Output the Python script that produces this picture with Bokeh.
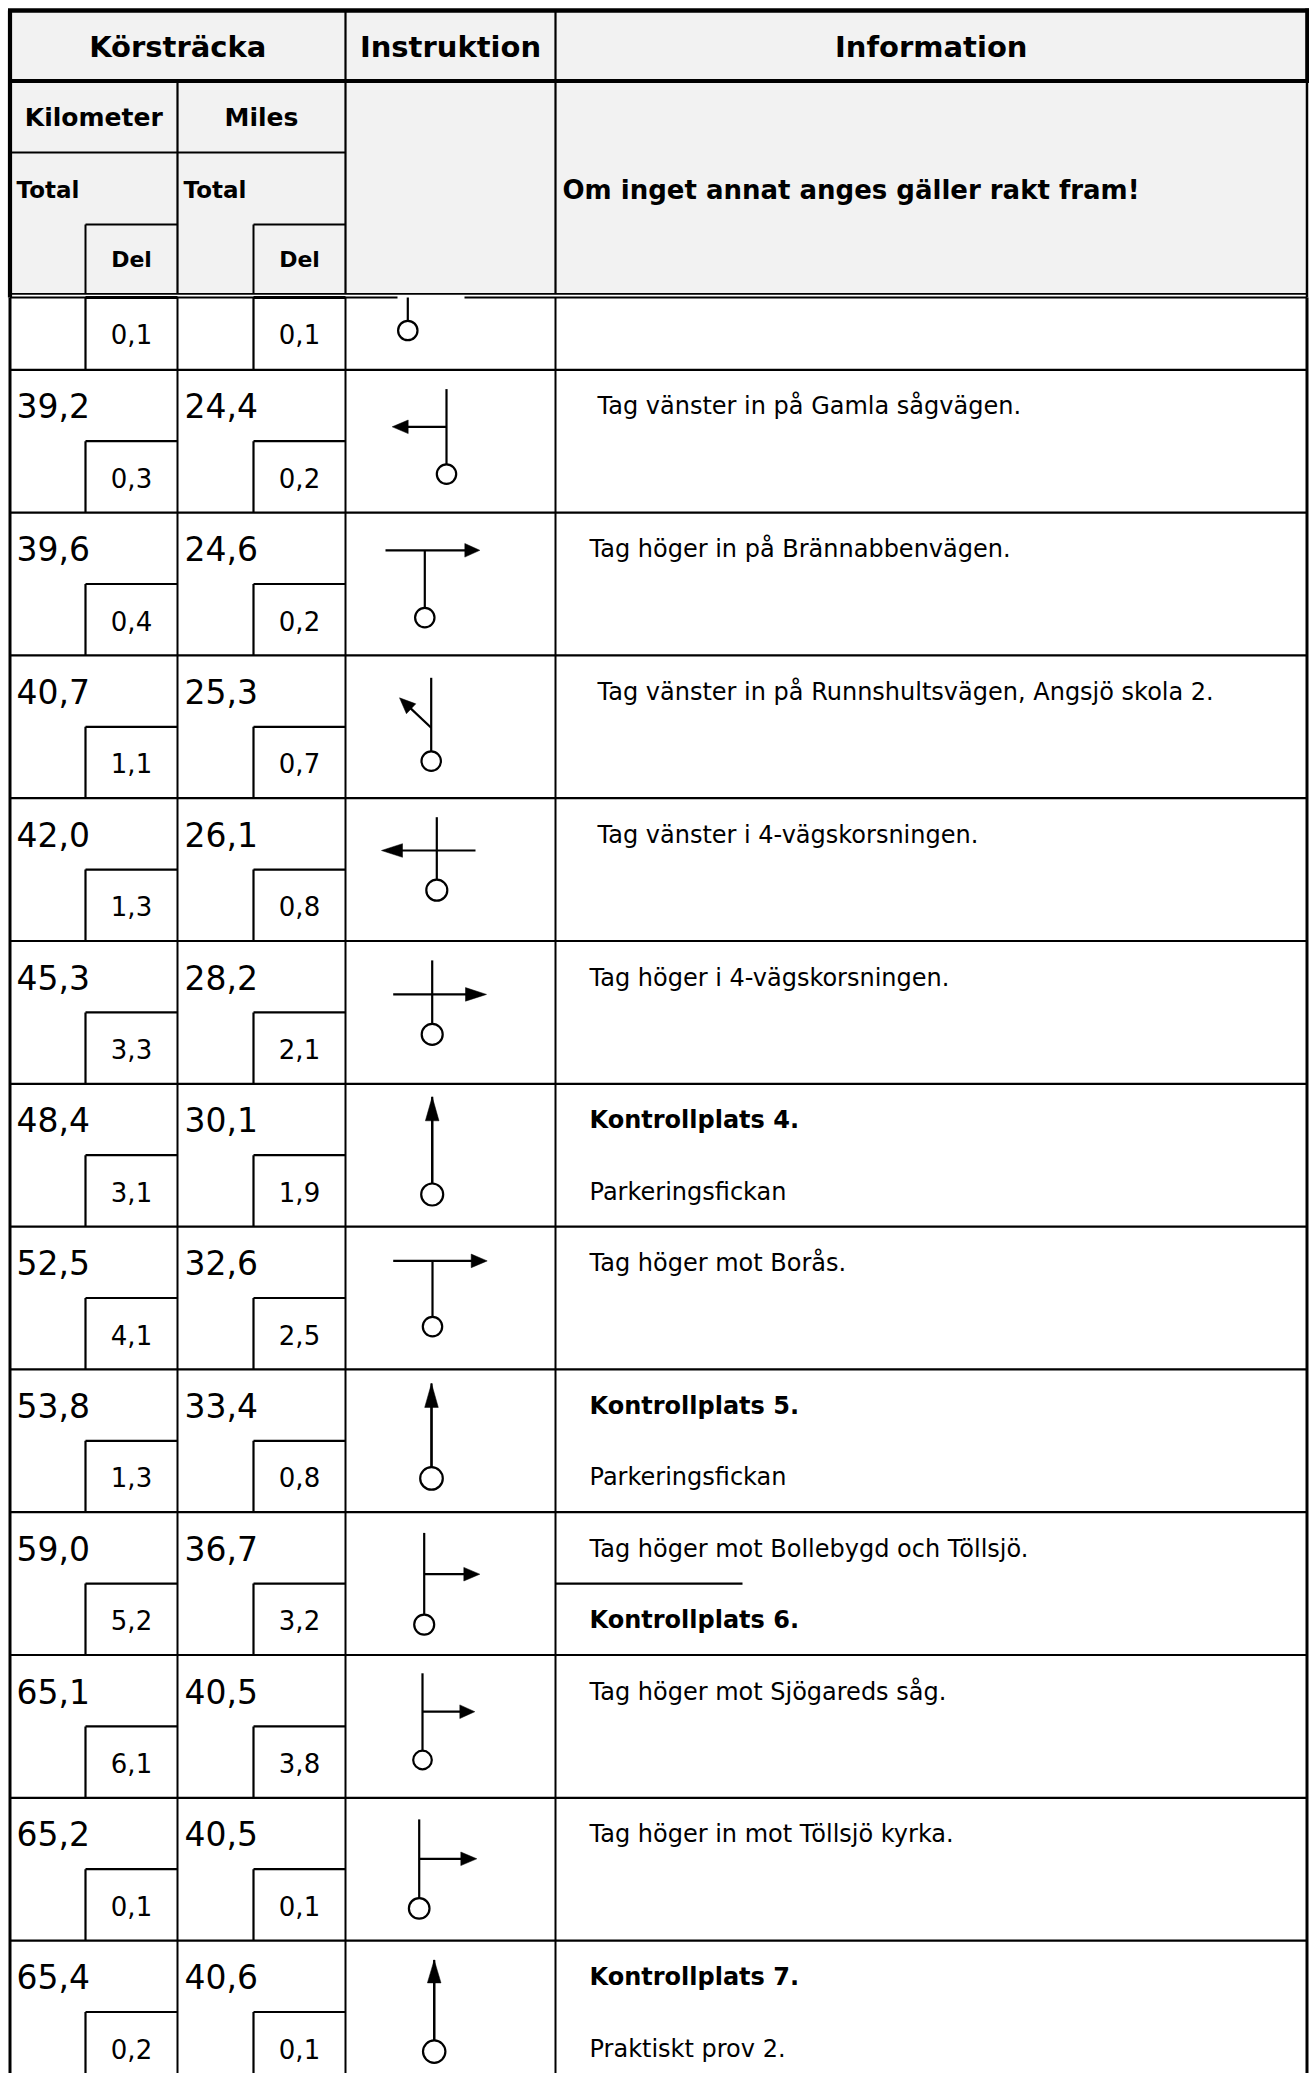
from bokeh.plotting import figure
from bokeh.models import Range1d, ColumnDataSource
from bokeh.embed import file_html
from bokeh.resources import INLINE
from bokeh.core.properties import value
import math

# ---------------- data ----------------
km_total = ["", "39,2", "39,6", "40,7", "42,0", "45,3", "48,4", "52,5", "53,8", "59,0", "65,1", "65,2", "65,4"]
km_del = ["0,1", "0,3", "0,4", "1,1", "1,3", "3,3", "3,1", "4,1", "1,3", "5,2", "6,1", "0,1", "0,2"]
mi_total = ["", "24,4", "24,6", "25,3", "26,1", "28,2", "30,1", "32,6", "33,4", "36,7", "40,5", "40,5", "40,6"]
mi_del = ["0,1", "0,2", "0,2", "0,7", "0,8", "2,1", "1,9", "2,5", "0,8", "3,2", "3,8", "0,1", "0,1"]
info_top = ["", "Tag vänster in på Gamla sågvägen.", "Tag höger in på Brännabbenvägen.",
            "Tag vänster in på Runnshultsvägen, Angsjö skola 2.", "Tag vänster i 4-vägskorsningen.",
            "Tag höger i 4-vägskorsningen.", "Kontrollplats 4.", "Tag höger mot Borås.",
            "Kontrollplats 5.", "Tag höger mot Bollebygd och Töllsjö.", "Tag höger mot Sjögareds såg.",
            "Tag höger in mot Töllsjö kyrka.", "Kontrollplats 7."]
info_bottom = ["", "", "", "", "", "", "Parkeringsfickan", "", "Parkeringsfickan",
               "Kontrollplats 6.", "", "", "Praktiskt prov 2."]
header_top = ["Körsträcka", "Instruktion", "Information"]
header_units = ["Kilometer", "Miles"]
header_total = "Total"
header_del = "Del"
header_note = "Om inget annat anges gäller rakt fram!"

# ---------------- layout (page pixels) ----------------
info_indent = [34, 42, 34, 42, 42, 34, 34, 34, 34, 34, 34, 34, 34]
split_rows = [9]  # rows with a partial separator in information column

XL, XKD, XKM, XMD, XIN, XINFO, XR = 9.5, 85, 177, 253, 345, 555, 1306.5
YT, Y1, Y2, Y3, YH1, YH2 = 10, 80.5, 152, 224, 293.3, 297
ROW0_BOTTOM = 369.3
ROW_H = 142.8
N = len(km_del)
row_top = [YH2] + [ROW0_BOTTOM + (i - 1) * ROW_H for i in range(1, N)]
BOTTOM = 2080

# icons: stem x, stem top offset, circle centre offset, radius, bar (x0, oy0, x1, oy1) with arrow at (x1, oy1), head length
icons = [
    dict(sx=407.3, st=0, cy=33, r=9.7, bar=None, L=0),
    dict(sx=446, st=19.3, cy=104.3, r=9.7, bar=(446, 57, 391.7, 57), L=16),
    dict(sx=424.3, st=37.7, cy=105, r=9.7, bar=(385, 37.7, 479.3, 37.7), L=15),
    dict(sx=430.7, st=22.4, cy=105.7, r=9.7, bar=(430.7, 72.4, 399, 42.4), L=16),
    dict(sx=436.3, st=19, cy=92, r=10.5, bar=(475, 52.3, 381, 52.3), L=21),
    dict(sx=431.7, st=19.4, cy=93.4, r=10.5, bar=(392.7, 53.4, 486, 53.4), L=21),
    dict(sx=431.7, st=13, cy=110.7, r=11, bar=(431.7, 99.7, 431.7, 13), L=24),
    dict(sx=432, st=34.3, cy=100, r=9.7, bar=(392.7, 34.3, 486.7, 34.3), L=16),
    dict(sx=431, st=14, cy=109, r=11.3, bar=(431, 97.7, 431, 14), L=24),
    dict(sx=423.7, st=20.7, cy=112.4, r=10, bar=(423.7, 62, 479.3, 62), L=16),
    dict(sx=422, st=18.3, cy=105, r=9.3, bar=(422, 56.7, 474.3, 56.7), L=15),
    dict(sx=418.7, st=21.6, cy=110.6, r=10.3, bar=(418.7, 61, 476.3, 61), L=16),
    dict(sx=433.7, st=19.3, cy=111, r=11.2, bar=(433.7, 99.8, 433.7, 19.3), L=23),
]

W, H = 1309, 2073
p = figure(width=W, height=H, x_range=Range1d(0, W), y_range=Range1d(H, 0),
           output_backend="svg", toolbar_location=None, min_border=0,
           x_axis_type=None, y_axis_type=None)
p.outline_line_color = None
p.background_fill_color = "white"
p.border_fill_color = "white"
p.xgrid.visible = False
p.ygrid.visible = False

FONT = value("DejaVu Sans")

# header background
p.quad(left=[XL], right=[XR], top=[YT], bottom=[YH1], fill_color="#F2F2F2", line_color=None)


def seg(x0, y0, x1, y1, w, color="black"):
    p.segment(x0=x0, y0=y0, x1=x1, y1=y1, line_color=color, line_width=w)


# --- header lines ---
seg([7.5, 1307], [YT, 8], [1309, 1307], [YT, Y1], 4.6)          # top border, right border row 1
seg([XL, 7.5], [YT, Y1], [XL, 1309], [YH2, Y1], 4.2)            # left border header, row 1 bottom
seg([XR], [Y1], [XR], [YH2], 2.5)                                # right border header
seg([XIN, XINFO, XKM, XL], [YT, YT, Y1, Y2], [XIN, XINFO, XKM, XIN], [YH1, YH1, YH1, Y2], 2.2)
seg([XKD, XKD, XMD, XMD], [Y3, Y3, Y3, Y3], [XKD, XKM, XMD, XIN], [YH1, Y3, YH1, Y3], 2)
seg([XL, XL], [YH1, YH2], [XR, XR], [YH1, YH2], 1.8)

# --- body lines ---
seg([XL, XR], [YH2, YH2], [XL, XR], [BOTTOM, BOTTOM], 3)
seg([XKM, XIN, XINFO], [YH2] * 3, [XKM, XIN, XINFO], [BOTTOM] * 3, 2)
seg([XKD, XMD], [YH2, YH2], [XKM, XIN], [YH2, YH2], 3)
bx0, by0, bx1, by1 = [], [], [], []
for i in range(1, N):
    t = row_top[i]
    bx0.append(XL); by0.append(t); bx1.append(XR); by1.append(t)
for i in range(N):
    t = row_top[i]
    if i == 0:
        mid, bot = YH2, ROW0_BOTTOM
    else:
        mid, bot = t + ROW_H / 2, t + ROW_H
        bx0 += [XKD, XMD]; by0 += [mid, mid]; bx1 += [XKM, XIN]; by1 += [mid, mid]
    bx0 += [XKD, XMD]; by0 += [mid, mid]; bx1 += [XKD, XMD]; by1 += [bot, bot]
for i in split_rows:
    mid = row_top[i] + ROW_H / 2
    bx0.append(XINFO); by0.append(mid); bx1.append(742); by1.append(mid)
seg(bx0, by0, bx1, by1, 2.2)

# white break in header double line above first icon
seg([397], [YH2], [464], [YH2], 3.2, "white")

# --- icons ---
sx0, sy0, sx1, sy1 = [], [], [], []
tri_x, tri_y = [], []
cx, cyy, cr = [], [], []
for i, ic in enumerate(icons):
    t = row_top[i]
    sx0.append(ic["sx"]); sy0.append(t + ic["st"]); sx1.append(ic["sx"]); sy1.append(t + ic["cy"] - ic["r"])
    cx.append(ic["sx"]); cyy.append(t + ic["cy"]); cr.append(ic["r"])
    if ic["bar"] is not None:
        x0, oy0, x1, oy1 = ic["bar"]
        y0, y1 = t + oy0, t + oy1
        dx, dy = x1 - x0, y1 - y0
        d = math.hypot(dx, dy)
        ux, uy = dx / d, dy / d
        L = ic["L"]
        hw = 6.8
        bxc, byc = x1 - ux * L, y1 - uy * L
        sx0.append(x0); sy0.append(y0); sx1.append(bxc + ux * 1); sy1.append(byc + uy * 1)
        tri_x.append([x1, bxc - uy * hw, bxc + uy * hw])
        tri_y.append([y1, byc + ux * hw, byc - ux * hw])
p.segment(x0=sx0, y0=sy0, x1=sx1, y1=sy1, line_color="black", line_width=2.2)
p.patches(xs=tri_x, ys=tri_y, fill_color="black", line_color="black", line_width=0.5)
p.circle(x=cx, y=cyy, radius=cr, fill_color="white", line_color="black", line_width=2.2)


# --- texts ---
def txt(xs, ys, texts, size, align="left", bold=False):
    src = ColumnDataSource(dict(x=xs, y=ys, t=texts))
    p.text(x="x", y="y", text="t", source=src, text_font=FONT, text_font_size=value(size),
           text_font_style="bold" if bold else "normal", text_align=align,
           text_baseline="middle", text_color="black")


txt([(XL + XIN) / 2, (XIN + XINFO) / 2, (XINFO + XR) / 2], [46] * 3, header_top, "29px", "center", True)
txt([(XL + XKM) / 2, (XKM + XIN) / 2], [117, 117], header_units, "25px", "center", True)
txt([16, 183], [189, 189], [header_total] * 2, "23px", "left", True)
txt([(XKD + XKM) / 2, (XMD + XIN) / 2], [259, 259], [header_del] * 2, "22px", "center", True)
txt([562], [189], [header_note], "26px", "left", True)

tx, ty, tt = [], [], []
dx_, dy_, dt_ = [], [], []
nx, ny, nt = [], [], []
kx, ky, kt = [], [], []
for i in range(N):
    t = row_top[i]
    if i == 0:
        dy = (YH2 + ROW0_BOTTOM) / 2
    else:
        dy = t + 108
        tx += [16, 184]; ty += [t + 36, t + 36]; tt += [km_total[i], mi_total[i]]
    dx_ += [(XKD + XKM) / 2, (XMD + XIN) / 2]; dy_ += [dy, dy]; dt_ += [km_del[i], mi_del[i]]
    for text, yy in ((info_top[i], t + 36.5), (info_bottom[i], t + 108)):
        if not text:
            continue
        if text.startswith("Kontrollplats"):
            kx.append(XINFO + info_indent[i]); ky.append(yy); kt.append(text)
        else:
            nx.append(XINFO + info_indent[i]); ny.append(yy); nt.append(text)

txt(tx, ty, tt, "33px")
txt(dx_, dy_, dt_, "26px", "center")
txt(nx, ny, nt, "24px")
txt(kx, ky, kt, "24px", "left", True)

open("out.html", "w").write(file_html(p, INLINE))
